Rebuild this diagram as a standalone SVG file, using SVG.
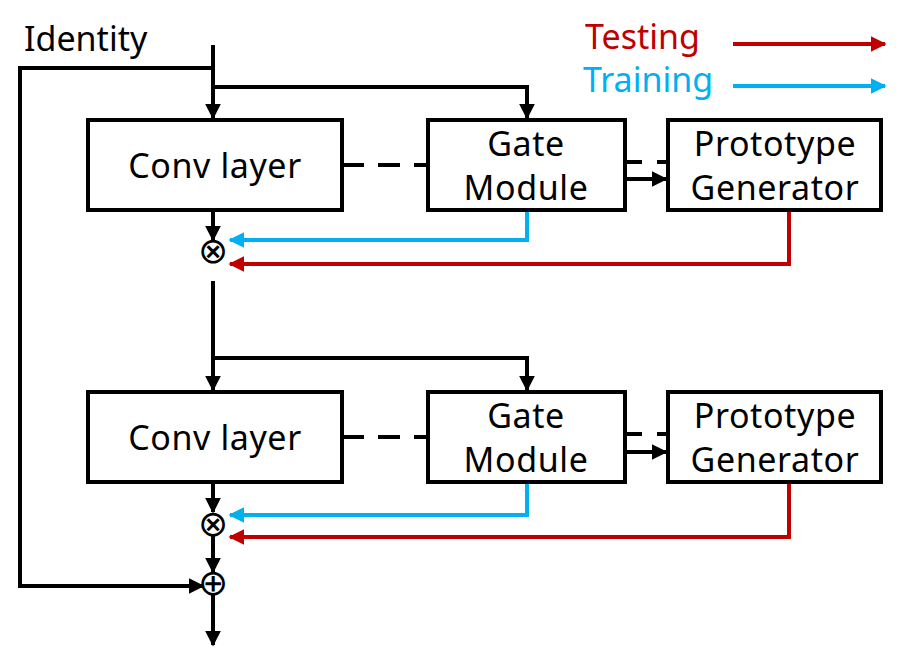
<svg xmlns="http://www.w3.org/2000/svg" width="901" height="662" viewBox="0 0 901 662">
<style>
.box{fill:#fff;stroke:#000;stroke-width:4}
.t{font-family:"Noto Sans","Open Sans",sans-serif;font-size:34px;letter-spacing:0.6px;fill:#000;text-anchor:middle}
.k{fill:none;stroke:#000;stroke-width:4}
.r{fill:none;stroke:#C00000;stroke-width:4}
.b{fill:none;stroke:#00B0F0;stroke-width:4}
.op{font-family:"DejaVu Sans",sans-serif;font-size:36px;text-anchor:middle;fill:#000}
.lg{font-family:"Noto Sans","Open Sans",sans-serif;font-size:34px}
</style>
<defs>
<marker id="ak" viewBox="0 0 10 10" refX="9" refY="5" markerWidth="4" markerHeight="4" orient="auto" markerUnits="strokeWidth"><path d="M0,0L10,5L0,10z" fill="#000"/></marker>
<marker id="ar" viewBox="0 0 10 10" refX="9" refY="5" markerWidth="4" markerHeight="4" orient="auto" markerUnits="strokeWidth"><path d="M0,0L10,5L0,10z" fill="#C00000"/></marker>
<marker id="ab" viewBox="0 0 10 10" refX="9" refY="5" markerWidth="4" markerHeight="4" orient="auto" markerUnits="strokeWidth"><path d="M0,0L10,5L0,10z" fill="#00B0F0"/></marker>
</defs>
<g id="legend">
<text class="lg" x="585" y="49" fill="#C00000">Testing</text>
<text class="lg" x="583" y="92" fill="#00B0F0">Training</text>
<line class="r" x1="733" y1="44" x2="885" y2="44" marker-end="url(#ar)"/>
<line class="b" x1="733" y1="86" x2="885" y2="86" marker-end="url(#ab)"/>
</g>
<text id="identity" class="lg" x="24" y="51">Identity</text>
<g id="connectors">
<path class="k" d="M213,45V118" marker-end="url(#ak)"/>
<path class="k" d="M213,87H527V118" marker-end="url(#ak)"/>
<path class="k" d="M213,68H20V586H203" marker-end="url(#ak)"/>
<path class="k" d="M342,165H428" stroke-dasharray="22,14"/>
<path class="k" d="M625,162H667" stroke-dasharray="17,15"/>
<path class="k" d="M625,179H666" marker-end="url(#ak)"/>
<path class="k" d="M213,212V240" marker-end="url(#ak)"/>
<path class="b" d="M527,210V240H230" marker-end="url(#ab)"/>
<path class="r" d="M789,210V264H230" marker-end="url(#ar)"/>
<path class="k" d="M213,281V390" marker-end="url(#ak)"/>
<path class="k" d="M213,358H527V390" marker-end="url(#ak)"/>
<path class="k" d="M342,437H428" stroke-dasharray="22,14"/>
<path class="k" d="M625,434H667" stroke-dasharray="17,15"/>
<path class="k" d="M625,452H666" marker-end="url(#ak)"/>
<path class="k" d="M213,484V512" marker-end="url(#ak)"/>
<path class="b" d="M527,482V515H230" marker-end="url(#ab)"/>
<path class="r" d="M789,482V537H230" marker-end="url(#ar)"/>
<path class="k" d="M213,535V572" marker-end="url(#ak)"/>
<path class="k" d="M213,595V645" marker-end="url(#ak)"/>
</g>
<g id="conv1"><rect class="box" x="88" y="120" width="254" height="90"/><text class="t" x="215" y="178">Conv layer</text></g>
<g id="gate1"><rect class="box" x="428" y="120" width="197" height="90"/><text class="t" x="526" y="156">Gate</text><text class="t" x="526" y="200">Module</text></g>
<g id="gen1"><rect class="box" x="668" y="120" width="213" height="90"/><text class="t" x="775" y="156">Prototype</text><text class="t" x="775" y="200">Generator</text></g>
<g id="conv2"><rect class="box" x="88" y="392" width="254" height="90"/><text class="t" x="215" y="450">Conv layer</text></g>
<g id="gate2"><rect class="box" x="428" y="392" width="197" height="90"/><text class="t" x="526" y="428">Gate</text><text class="t" x="526" y="472">Module</text></g>
<g id="gen2"><rect class="box" x="668" y="392" width="213" height="90"/><text class="t" x="775" y="428">Prototype</text><text class="t" x="775" y="472">Generator</text></g>
<g id="mul1"><text class="op" x="213" y="263">⊗</text></g>
<g id="mul2"><text class="op" x="213" y="536">⊗</text></g>
<g id="add"><text class="op" x="213" y="595">⊕</text></g>
</svg>
